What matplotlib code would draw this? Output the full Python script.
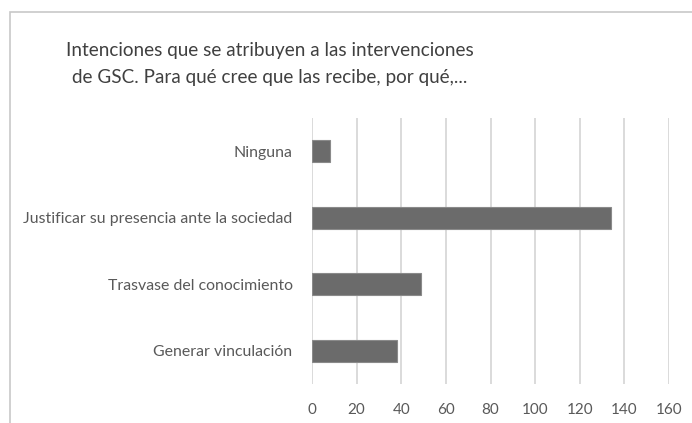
import matplotlib.pyplot as plt
from matplotlib.patches import Rectangle

categorias = ['Generar vinculación', 'Trasvase del conocimiento',
              'Justificar su presencia ante la sociedad', 'Ninguna']
valores = [38, 49, 134, 8]
ticks_x = [0, 20, 40, 60, 80, 100, 120, 140, 160]
titulo = 'Intenciones que se atribuyen a las intervenciones\nde GSC. Para qué cree que las recibe, por qué,...'

plt.rcParams['font.family'] = ['Lato', 'DejaVu Sans']
W, H = 692, 423
fig = plt.figure(figsize=(W / 100, H / 100), dpi=100)
fig.patch.set_facecolor('white')

# marco del gráfico
fig.patches.append(Rectangle((10 / W, -0.1), 1.2, 1 - 12 / H + 0.1,
                             transform=fig.transFigure, fill=False,
                             edgecolor='#c8c8c8', linewidth=1.2))

ax = fig.add_axes([312 / W, 1 - 384 / H, (669 - 312) / W, (384 - 118) / H])
ax.barh(range(len(categorias)), valores, height=0.33, color='#6b6b6b',
        edgecolor='#8a8a8a', linewidth=0.8, zorder=3)
ax.set_xlim(0, 160)
ax.set_ylim(-0.5, len(categorias) - 0.5)
ax.set_xticks(ticks_x)
ax.set_yticks(range(len(categorias)))
ax.set_yticklabels(categorias)
ax.grid(axis='x', color='#d4d4d4', linewidth=1.2, zorder=0)
for s in ax.spines.values():
    s.set_visible(False)
ax.tick_params(axis='both', length=0, colors='#595959')
ax.tick_params(axis='x', pad=14, labelsize=11)
ax.tick_params(axis='y', pad=14, labelsize=11.4)

fig.text(270 / W, 1 - 64 / H, titulo, ha='center', va='center',
         multialignment='center', fontsize=13.6, color='#404040',
         linespacing=1.7)

fig.savefig('out.png', dpi=100)
